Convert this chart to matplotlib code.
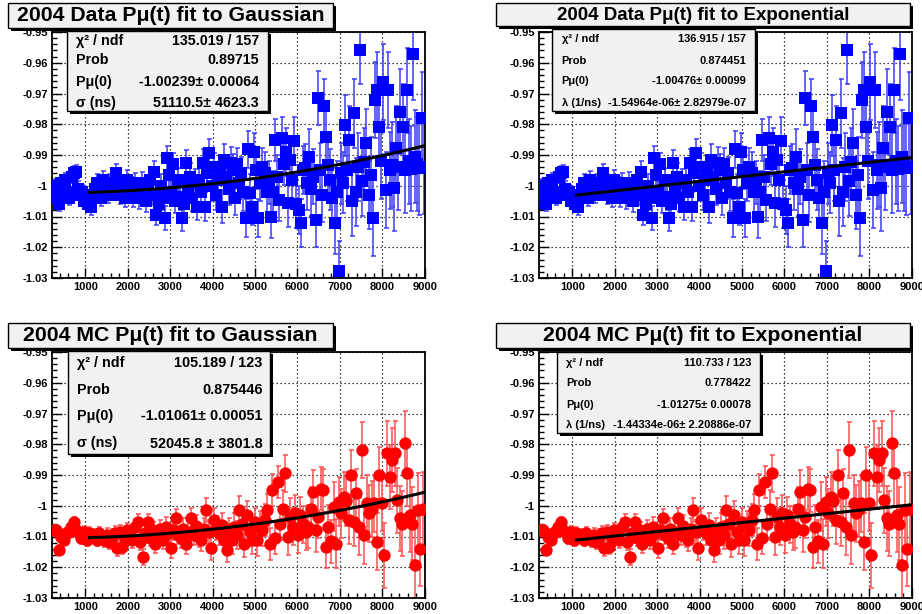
import numpy as np
import matplotlib.pyplot as plt
from matplotlib.patches import Rectangle
from matplotlib.ticker import FixedLocator, MultipleLocator, FuncFormatter

plt.rcParams["font.family"] = ["Liberation Sans", "DejaVu Sans"]
plt.rcParams["font.weight"] = "bold"

# ---------------------------------------------------------------------------
# 2004 data: bin centres (ns), polarization, error per 500 ns block.
dataTime = [
    225, 275, 325, 375, 425, 475, 525, 575, 625, 675,
    725, 775, 825, 875, 925, 975, 1025, 1075, 1125, 1175,
    1225, 1275, 1325, 1375, 1425, 1475, 1525, 1575, 1625, 1675,
    1725, 1775, 1825, 1875, 1925, 1975, 2025, 2075, 2125, 2175,
    2225, 2275, 2325, 2375, 2425, 2475, 2525, 2575, 2625, 2675,
    2725, 2775, 2825, 2875, 2925, 2975, 3025, 3075, 3125, 3175,
    3225, 3275, 3325, 3375, 3425, 3475, 3525, 3575, 3625, 3675,
    3725, 3775, 3825, 3875, 3925, 3975, 4025, 4075, 4125, 4175,
    4225, 4275, 4325, 4375, 4425, 4475, 4525, 4575, 4625, 4675,
    4725, 4775, 4825, 4875, 4925, 4975, 5025, 5075, 5125, 5175,
    5225, 5275, 5325, 5375, 5425, 5475, 5525, 5575, 5625, 5675,
    5725, 5775, 5825, 5875, 5925, 5975, 6025, 6075, 6125, 6175,
    6225, 6275, 6325, 6375, 6425, 6475, 6525, 6575, 6625, 6675,
    6725, 6775, 6825, 6875, 6925, 6975, 7025, 7075, 7125, 7175,
    7225, 7275, 7325, 7375, 7425, 7475, 7525, 7575, 7625, 7675,
    7725, 7775, 7825, 7875, 7925, 7975, 8025, 8075, 8125, 8175,
    8225, 8275, 8325, 8375, 8425, 8475, 8525, 8575, 8625, 8675,
    8725, 8775, 8825, 8875, 8925, 8975,
]
dataPol = [
    -1.003, -1.000, -1.004, -1.006, -0.999, -1.001, -0.998, -1.002, -1.004, -0.997,
    -0.996, -0.9955, -1.001, -1.003, -1.002, -1.005, -1.004, -1.006, -1.007, -1.003,
    -1.001, -0.999, -1.002, -1.004, -0.998, -1.000, -1.003, -0.999, -1.002, -1.001,
    -0.996, -0.999, -1.003, -1.001, -1.004, -0.998, -1.002, -1.000, -1.004, -0.999,
    -1.002, -1.004, -0.999, -1.003, -1.005, -1.001, -0.998, -1.003, -0.9955, -1.0095,
    -1.006, -1.000, -1.004, -1.0105, -0.991, -0.9965, -1.002, -0.993, -1.005, -0.998,
    -1.0035, -1.0105, -1.006, -0.9927, -1.001, -0.997, -1.004, -0.999, -1.0068, -0.998,
    -1.002, -0.9927, -1.0068, -0.996, -0.9895, -1.000, -0.994, -1.003, -0.998, -0.995,
    -1.0068, -0.9917, -0.997, -1.001, -0.9927, -0.995, -1.004, -0.993, -0.999, -0.996,
    -1.002, -1.0105, -0.9882, -1.0024, -1.0068, -0.989, -0.995, -1.0105, -0.999, -0.9938,
    -0.996, -1.002, -0.999, -1.010, -1.002, -0.9851, -0.997, -1.0046, -0.9846, -0.993,
    -0.989, -1.0057, -0.9917, -0.998, -0.9856, -1.006, -1.0078, -1.0122, -0.995, -0.9943,
    -0.9992, -0.9905, -1.001, -0.997, -1.0111, -0.9716, -0.995, -1.003, -0.9741, -0.9841,
    -0.9932, -0.998, -1.004, -1.0122, -1.002, -1.0278, -0.996, -0.999, -0.9803, -0.995,
    -0.9851, -1.0051, -0.9765, -1.002, -0.994, -0.9559, -0.9986, -0.9922, -0.9862, -1.003,
    -0.9965, -1.0105, -0.9722, -0.9689, -0.9808, -0.992, -0.9662, -1.0014, -0.9689, -0.995,
    -0.9932, -1.0008, -0.9878, -0.994, -0.9759, -0.9808, -0.9949, -0.9689, -0.992, -0.9945,
    -0.957, -0.9905, -0.993, -0.9943, -0.9781, -0.994,
]
dataErrBlock = [0.0021, 0.0024, 0.0027, 0.0030, 0.0034, 0.0038, 0.0043, 0.0048, 0.0054,
                0.0061, 0.0069, 0.0078, 0.0088, 0.0099, 0.0111, 0.0124, 0.0138, 0.0152]

# 2004 Monte Carlo: bin centres (ns), polarization, error per 600 ns block.
mcTime = [
    250, 310, 370, 430, 490, 550, 610, 670, 730, 790,
    850, 910, 970, 1030, 1090, 1150, 1210, 1270, 1330, 1390,
    1450, 1510, 1570, 1630, 1690, 1750, 1810, 1870, 1930, 1990,
    2050, 2110, 2170, 2230, 2290, 2350, 2410, 2470, 2530, 2590,
    2650, 2710, 2770, 2830, 2890, 2950, 3010, 3070, 3130, 3190,
    3250, 3310, 3370, 3430, 3490, 3550, 3610, 3670, 3730, 3790,
    3850, 3910, 3970, 4030, 4090, 4150, 4210, 4270, 4330, 4390,
    4450, 4510, 4570, 4630, 4690, 4750, 4810, 4870, 4930, 4990,
    5050, 5110, 5170, 5230, 5290, 5350, 5410, 5470, 5530, 5590,
    5650, 5710, 5770, 5830, 5890, 5950, 6010, 6070, 6130, 6190,
    6250, 6310, 6370, 6430, 6490, 6550, 6610, 6670, 6730, 6790,
    6850, 6910, 6970, 7030, 7090, 7150, 7210, 7270, 7330, 7390,
    7450, 7510, 7570, 7630, 7690, 7750, 7810, 7870, 7930, 7990,
    8050, 8110, 8170, 8230, 8290, 8350, 8410, 8470, 8530, 8590,
    8650, 8710, 8770, 8830, 8890, 8950,
]
mcPol = [
    -1.008, -1.0079, -1.0144, -1.010, -1.0112, -1.009, -1.0085, -1.007, -1.0052, -1.008,
    -1.009, -1.0105, -1.0085, -1.0112, -1.009, -1.010, -1.0095, -1.011, -1.009, -1.0105,
    -1.011, -1.0095, -1.0118, -1.010, -1.009, -1.0139, -1.0085, -1.0134, -1.0105, -1.008,
    -1.0095, -1.0112, -1.007, -1.0052, -1.0117, -1.0166, -1.009, -1.0052, -1.0105, -1.0078,
    -1.0123, -1.0095, -1.0075, -1.011, -1.0068, -1.009, -1.0139, -1.008, -1.0041, -1.0095,
    -1.0105, -1.0075, -1.0123, -1.0085, -1.0041, -1.0095, -1.0065, -1.010, -1.0112, -1.0075,
    -1.0014, -1.0085, -1.0139, -1.0047, -1.0072, -1.009, -1.0062, -1.011, -1.0144, -1.008,
    -1.0112, -1.0068, -1.0095, -1.0014, -1.006, -1.0123, -1.003, -1.0085, -1.0112, -1.0052,
    -1.0112, -1.007, -1.0079, -1.0045, -1.0014, -1.0123, -0.9949, -1.0105, -0.9922, -1.006,
    -1.0009, -0.9895, -1.0101, -1.0036, -1.0068, -1.0025, -1.0095, -1.003, -1.006, -1.0085,
    -1.0068, -1.001, -0.9954, -1.0079, -1.0035, -0.9944, -0.9949, -1.0134, -1.0068, -1.0115,
    -1.0003, -1.0123, -0.9987, -1.0025, -0.9971, -0.9985, -1.0045, -0.990, -1.0052, -0.996,
    -1.0068, -0.9819, -1.0096, -0.9992, -1.0025, -1.001, -0.9992, -1.0117, -0.990, -0.999,
    -1.0161, -0.983, -0.9906, -0.9851, -0.983, -0.9982, -1.0041, -1.0058, -0.9797, -0.9895,
    -1.003, -1.0058, -1.0193, -1.0014, -1.0142, -1.001,
]
mcErrBlock = [0.0017, 0.0020, 0.0023, 0.0026, 0.0030, 0.0034, 0.0039, 0.0045,
              0.0052, 0.0060, 0.0070, 0.0080, 0.0092, 0.0105, 0.0120]

# Fit results shown in the stat boxes.
dataGauss = {"p0": -1.00239, "sigma": 51110.5}
dataExpo  = {"p0": -1.00476, "lam": -1.54964e-06}
mcGauss   = {"p0": -1.01061, "sigma": 52045.8}
mcExpo    = {"p0": -1.01275, "lam": -1.44334e-06}

fitRange  = (1100, 9000)
yTicks    = [-1.03, -1.02, -1.01, -1.00, -0.99, -0.98, -0.97, -0.96, -0.95]
xTicks    = [1000, 2000, 3000, 4000, 5000, 6000, 7000, 8000, 9000]

W, H = 922, 614


def FigRect(fig, x0, y0, x1, y1, **kwargs):
    # Pixel box (origin top left) to a rectangle in figure coordinates.
    rect = Rectangle((x0/W, 1-y1/H), (x1-x0)/W, (y1-y0)/H, transform=fig.transFigure, **kwargs)
    fig.add_artist(rect)


def ShadowBox(fig, x0, y0, x1, y1, z=5):
    FigRect(fig, x0+3, y0+3, x1+3, y1+3, facecolor="black", edgecolor="none", zorder=z)
    FigRect(fig, x0, y0, x1, y1, facecolor="#f1f1f1", edgecolor="black", linewidth=1.0, zorder=z+0.1)


def Gauss(t, p):
    return p["p0"]*np.exp(-t**2/(2*p["sigma"]**2))


def Expo(t, p):
    return p["p0"]*np.exp(p["lam"]*t)


def DrawPanel(fig, rect, time, pol, errBlock, blockSize, color, barColor, marker, markerSize,
              fitFunc, fitParams, title, titleBox, titleSize, statsBox, statsRows, statsSize, rowY, labelX, valueX):
    axes = fig.add_axes(rect)
    time = np.asarray(time, dtype=float)
    pol  = np.asarray(pol, dtype=float)
    err  = np.repeat(errBlock, blockSize)[:len(time)]

    axes.errorbar(time, pol, yerr=err, fmt="none", ecolor=barColor, elinewidth=1.1,
                  capsize=1.8, capthick=1.1, zorder=2)
    axes.plot(time, pol, linestyle="none", marker=marker, markersize=markerSize,
              color=color, markeredgewidth=0, zorder=3)

    tFit = np.linspace(fitRange[0], fitRange[1], 300)
    axes.plot(tFit, fitFunc(tFit, fitParams), color="black", linewidth=2.2, zorder=4)

    axes.set_xlim(215, 9005)
    axes.set_ylim(-1.03, -0.95)
    axes.yaxis.set_major_locator(FixedLocator(yTicks))
    axes.yaxis.set_minor_locator(MultipleLocator(0.002))
    axes.xaxis.set_major_locator(FixedLocator(xTicks))
    axes.xaxis.set_minor_locator(MultipleLocator(200))
    axes.yaxis.set_major_formatter(FuncFormatter(lambda v, pos: f"{v:.2f}".rstrip("0").rstrip(".")))
    axes.tick_params(which="both", direction="in", top=False, right=False, labelsize=8, width=1.0)
    axes.tick_params(which="major", length=7, pad=3)
    axes.tick_params(which="minor", length=3.5)
    for label in axes.get_xticklabels() + axes.get_yticklabels():
        label.set_fontweight("bold")
    for spine in axes.spines.values():
        spine.set_linewidth(1.3)
    axes.grid(True, which="major", color="black", linestyle=(0, (1, 2.2)), linewidth=0.9)
    axes.set_axisbelow(True)

    # Title box.
    ShadowBox(fig, *titleBox)
    fig.text(((titleBox[0]+titleBox[2])/2)/W, 1-((titleBox[1]+titleBox[3])/2+0.5)/H, title,
             ha="center", va="center", fontsize=titleSize, fontweight="bold", zorder=7)

    # Statistics box.
    ShadowBox(fig, *statsBox)
    for (label, value), y in zip(statsRows, rowY):
        fig.text(labelX/W, 1-y/H, label, ha="left", va="center", fontsize=statsSize, fontweight="bold", zorder=7)
        fig.text(valueX/W, 1-y/H, value, ha="right", va="center", fontsize=statsSize, fontweight="bold", zorder=7)
    return axes


figure = plt.figure(figsize=(W/100, H/100), dpi=100)
figure.patch.set_facecolor("white")

axW, axH = 373/W, 246/H
blue, blueBar = "#0000ff", "#3a3aff"
red, redBar   = "#ff0000", "#ff5050"

DrawPanel(figure, [52/W, 1-278/H, axW, axH], dataTime, dataPol, dataErrBlock, 10, blue, blueBar, "s", 8.4,
          Gauss, dataGauss, "2004 Data P\u03bc(t) fit to Gaussian", (8, 3, 333, 27.5), 15.3,
          (67, 31, 268, 111),
          [("\u03c7\u00b2 / ndf", "135.019 / 157"), ("Prob", "0.89715"),
           ("P\u03bc(0)", "-1.00239\u00b1 0.00064"), ("\u03c3 (ns)", "51110.5\u00b1 4623.3")],
          10.3, [41, 60.5, 82, 103], 76, 259)

DrawPanel(figure, [539/W, 1-278/H, axW, axH], dataTime, dataPol, dataErrBlock, 10, blue, blueBar, "s", 8.4,
          Expo, dataExpo, "2004 Data P\u03bc(t) fit to Exponential", (496, 3, 910, 26), 13.5,
          (552, 29, 755, 111),
          [("\u03c7\u00b2 / ndf", "136.915 / 157"), ("Prob", "0.874451"),
           ("P\u03bc(0)", "-1.00476\u00b1 0.00099"), ("\u03bb (1/ns)", "-1.54964e-06\u00b1 2.82979e-07")],
          8.0, [38.5, 60.5, 81.5, 102.5], 561.5, 746)

DrawPanel(figure, [52/W, 1-598/H, axW, axH], mcTime, mcPol, mcErrBlock, 10, red, redBar, "o", 8.9,
          Gauss, mcGauss, "2004 MC P\u03bc(t) fit to Gaussian", (8, 323, 333, 347.5), 15.3,
          (68, 351, 270, 454),
          [("\u03c7\u00b2 / ndf", "105.189 / 123"), ("Prob", "0.875446"),
           ("P\u03bc(0)", "-1.01061\u00b1 0.00051"), ("\u03c3 (ns)", "52045.8 \u00b1 3801.8")],
          10.4, [363, 389.5, 416, 443.5], 77, 262.5)

DrawPanel(figure, [539/W, 1-598/H, axW, axH], mcTime, mcPol, mcErrBlock, 10, red, redBar, "o", 8.9,
          Expo, mcExpo, "2004 MC P\u03bc(t) fit to Exponential", (496, 323, 910, 347.5), 15.3,
          (557, 352, 760, 433),
          [("\u03c7\u00b2 / ndf", "110.733 / 123"), ("Prob", "0.778422"),
           ("P\u03bc(0)", "-1.01275\u00b1 0.00078"), ("\u03bb (1/ns)", "-1.44334e-06\u00b1 2.20886e-07")],
          8.0, [362.5, 383.5, 404.5, 425], 566.5, 751)

figure.savefig("out.png", dpi=100)
